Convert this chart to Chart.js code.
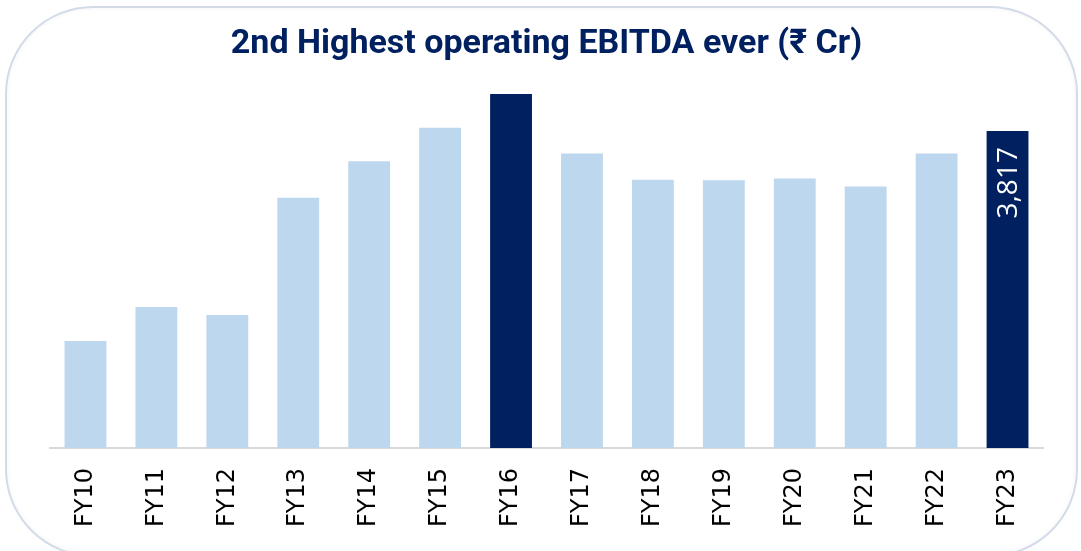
<!DOCTYPE html>
<html>
<head>
<meta charset="utf-8">
<script src="https://cdn.jsdelivr.net/npm/chart.js@4"></script>
<style>
    body { margin: 0; background: #fff; }
    #wrap { position: relative; width: 1081px; height: 551px; overflow: hidden; }
    #frame {
        position: absolute; left: 5px; top: 6px; width: 1069px; height: 547px;
        border: 2px solid #d3dbe9; border-radius: 88px;
        box-shadow: inset 0 0 5px rgba(0,0,0,0.05);
        pointer-events: none;
    }
    canvas { position: absolute; left: 0; top: 0; }
</style>
</head>
<body>
<div id="wrap">
    <div id="frame"></div>
    <canvas id="ebitdaChart" width="1081" height="551"></canvas>
</div>
<script>
const years = ["FY10", "FY11", "FY12", "FY13", "FY14", "FY15", "FY16", "FY17", "FY18", "FY19", "FY20", "FY21", "FY22", "FY23"];
const ebitda = [1288, 1698, 1602, 3013, 3455, 3857, 4263, 3548, 3230, 3226, 3247, 3150, 3548, 3817];
const highlighted = ["FY16", "FY23"];
const labelledYears = ["FY23"];

const lightBlue = "#bdd7ee";
const navy = "#002060";

// label inside the bar, rotated like the axis labels
const valueLabels = {
    id: "valueLabels",
    afterDatasetsDraw(chart) {
        const ctx = chart.ctx;
        const meta = chart.getDatasetMeta(0);
        meta.data.forEach((bar, i) => {
            if (!labelledYears.includes(years[i])) return;
            ctx.save();
            ctx.translate(bar.x + 1, bar.y + 16);
            ctx.rotate(-Math.PI / 2);
            ctx.font = "28px 'Open Sans'";
            ctx.fillStyle = "#ffffff";
            ctx.textAlign = "right";
            ctx.textBaseline = "middle";
            ctx.fillText(ebitda[i].toLocaleString("en-US"), 0, 0);
            ctx.restore();
        });
    }
};

new Chart(document.getElementById("ebitdaChart"), {
    type: "bar",
    data: {
        labels: years,
        datasets: [{
            data: ebitda,
            backgroundColor: years.map(y => highlighted.includes(y) ? navy : lightBlue),
            barPercentage: 0.59,
            categoryPercentage: 1
        }]
    },
    options: {
        responsive: false,
        animation: false,
        layout: { padding: { left: 50, right: 38, top: 0, bottom: 4 } },
        plugins: {
            legend: { display: false },
            tooltip: { enabled: false },
            title: {
                display: true,
                text: "2nd Highest operating EBITDA ever (₹ Cr)",
                color: navy,
                font: { family: "Roboto", size: 34, weight: "bold" },
                padding: { top: 24, bottom: 9.6 }
            }
        },
        scales: {
            x: {
                grid: { display: false, drawTicks: false },
                border: { display: true, color: "#d9d9d9", width: 2 },
                ticks: {
                    color: "#000",
                    font: { family: "DejaVu Sans", size: 24 },
                    minRotation: 90,
                    maxRotation: 90,
                    padding: 20
                }
            },
            y: {
                display: false,
                min: 0,
                max: 4500
            }
        }
    },
    plugins: [valueLabels]
});
</script>
</body>
</html>
